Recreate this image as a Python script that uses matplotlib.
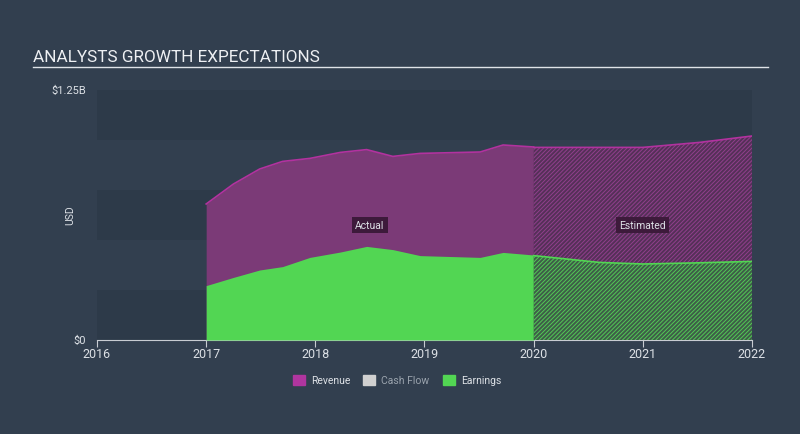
import matplotlib
matplotlib.use("Agg")
import matplotlib.pyplot as plt
from matplotlib.patches import Rectangle

# values in $B
act_years = [2017.0, 2017.25, 2017.49, 2017.70, 2017.95, 2018.23, 2018.47, 2018.71, 2018.96, 2019.51, 2019.72, 2020.0]
act_revenue = [0.68, 0.78, 0.855, 0.893, 0.908, 0.938, 0.952, 0.918, 0.933, 0.94, 0.975, 0.965]
act_earnings = [0.272, 0.313, 0.35, 0.367, 0.413, 0.44, 0.468, 0.452, 0.422, 0.413, 0.438, 0.425]

est_years = [2020.0, 2020.6, 2021.0, 2021.52, 2022.0]
est_revenue = [0.963, 0.963, 0.963, 0.988, 1.02]
est_earnings = [0.422, 0.388, 0.38, 0.386, 0.393]

year_ticks = [2016, 2017, 2018, 2019, 2020, 2021, 2022]

bg = "#323f4f"
band = "#2d3a49"
rev_c = "#7b3a77"
rev_line = "#b2329f"
earn_c = "#52d653"
text_c = "#dde1e6"

plt.rcParams['font.family'] = ['Roboto', 'DejaVu Sans']
plt.rcParams['hatch.linewidth'] = 0.7

fig = plt.figure(figsize=(8, 4.35), dpi=100, facecolor=bg)
ax = fig.add_axes([97/800, 1-341/435, (752-97)/800, 250/435])
ax.set_facecolor(bg)

for lo in [0, 0.5, 1.0]:
    ax.axhspan(lo, lo+0.25, color=band, lw=0, zorder=0)

# actual
ax.fill_between(act_years, 0, act_revenue, color=rev_c, lw=0, zorder=2)
ax.plot(act_years, act_revenue, color=rev_line, lw=1.2, zorder=3)
ax.fill_between(act_years, 0, act_earnings, color=earn_c, lw=0, zorder=4)

# estimated (hatched)
ax.fill_between(est_years, 0, est_revenue, facecolor="#553058", edgecolor="#913f8d",
                hatch="////////", lw=0, zorder=2)
ax.plot(est_years, est_revenue, color=rev_line, lw=1.2, zorder=3)
ax.fill_between(est_years, 0, est_earnings, facecolor="#3e5d48", edgecolor="#52c955",
                hatch="////////", lw=0, zorder=4)
ax.plot(est_years, est_earnings, color=earn_c, lw=1.2, zorder=5)

ax.text(2018.5, 0.575, "Actual", color=text_c, fontsize=7.5, ha="center", va="center", zorder=6,
        bbox=dict(boxstyle="square,pad=0.3", fc="#3d1a3b", ec="none"))
ax.text(2021.0, 0.575, "Estimated", color=text_c, fontsize=7.5, ha="center", va="center", zorder=6,
        bbox=dict(boxstyle="square,pad=0.3", fc="#3d1a3b", ec="none"))

ax.set_xlim(2016, 2022)
ax.set_ylim(0, 1.25)
for s in ['top', 'right', 'left']:
    ax.spines[s].set_visible(False)
ax.spines['bottom'].set_color("#c8ccd2")
ax.set_xticks(year_ticks)
ax.set_xticklabels([str(y) for y in year_ticks])
ax.tick_params(axis='x', colors="#c8ccd2", labelcolor=text_c, labelsize=9, length=5, pad=0)
ax.set_yticks([])

fig.text(86/800, 1-91/435, "$1.25B", color=text_c, fontsize=8, ha="right", va="center")
fig.text(86/800, 1-341/435, "$0", color=text_c, fontsize=8, ha="right", va="center")
fig.text(70/800, 1-215/435, "USD", color=text_c, fontsize=7.5, ha="center", va="center", rotation=90)

fig.text(33/800, 1-57/435, "ANALYSTS GROWTH EXPECTATIONS", color="#eef0f3", fontsize=12.3,
         ha="left", va="center")
fig.add_artist(plt.Line2D([33/800, 768/800], [1-68/435, 1-68/435], color="#dfe3e8", lw=1,
                          transform=fig.transFigure))

# legend
leg_items = [("Revenue", "#b0359f", text_c, 293), ("Cash Flow", "#d0d0d0", "#9aa3ad", 363),
             ("Earnings", earn_c, text_c, 443)]
for name, col, tcol, x0 in leg_items:
    fig.add_artist(Rectangle((x0/800, 1-386/435), 12/800, 10/435, color=col, transform=fig.transFigure))
    fig.text((x0+18)/800, 1-381/435, name, color=tcol, fontsize=7.5, ha="left", va="center")

fig.savefig("out.png", dpi=100, facecolor=bg)
